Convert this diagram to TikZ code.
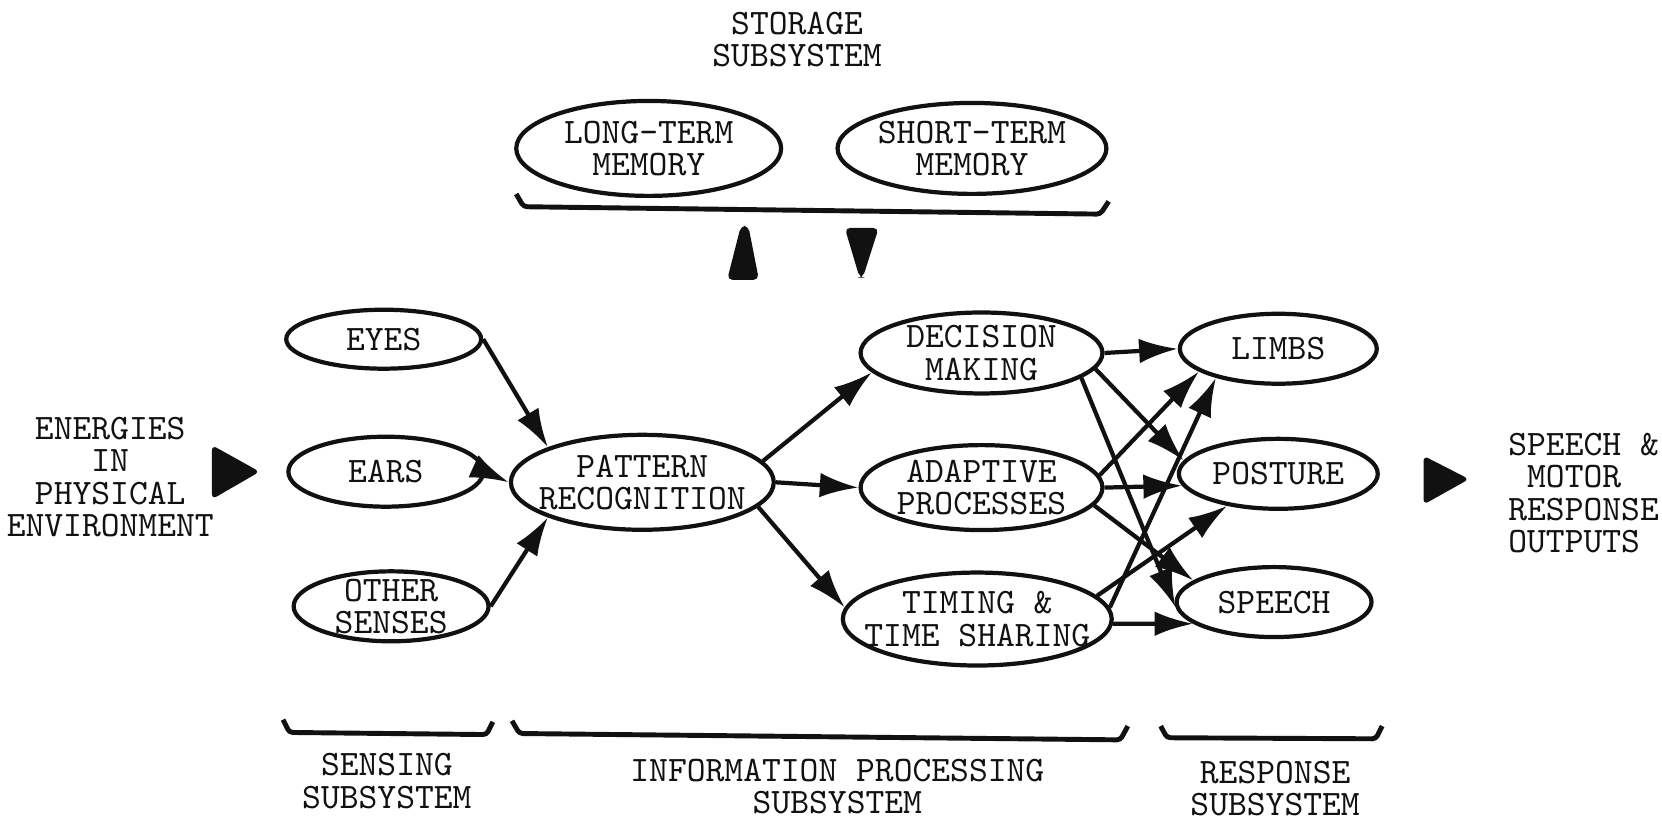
\documentclass[tikz,border=0pt]{standalone}
\usepackage{fontspec}
\usetikzlibrary{arrows.meta,shapes.geometric}
\definecolor{Ink}{HTML}{111111}
\definecolor{Paper}{HTML}{FFFFFF}

\begin{document}
\begin{tikzpicture}[x=0.0106cm,y=-0.0106cm,>={Latex[length=11pt,width=7pt]},line width=1.2pt,
 every node/.style={font=\ttfamily\fontsize{10.2}{9.2}\selectfont,text=Ink},
 unit/.style={draw=Ink,ellipse,inner sep=0pt,label={[align=center]center:#1}},
 flow/.style={draw=Ink,->},
 brace/.style={draw=Ink,line width=1.4pt,rounded corners=1pt},
 blob/.style={fill=Ink,rounded corners=1.5pt}]
\fill[Paper] (0,0) rectangle (1568,775); \useasboundingbox (0,0) rectangle (1568,775);
\node[align=center] (stor) at (752,37) {STORAGE\\SUBSYSTEM};
\node[unit={LONG-TERM\\MEMORY},minimum width=2.65cm,minimum height=0.95cm] (ltm) at (612,140) {};
\node[unit={SHORT-TERM\\MEMORY},minimum width=2.69cm,minimum height=0.91cm] (stm) at (917,140) {};
\draw[brace] (487,183) -- (494,195) -- (1038,202) -- (1046,190);
\fill[blob] (686,264) -- (699,213) -- (706,213) -- (716,264) -- cycle;
\fill[blob] (797,215) -- (829,215) -- (814,262) -- (811,262) -- cycle;
\node[align=center] (env) at (104,450) {ENERGIES\\IN\\PHYSICAL\\ENVIRONMENT};
\fill[blob] (200,420) -- (245,445) -- (200,471) -- cycle;
\node[unit=EYES,minimum width=1.95cm,minimum height=0.59cm] (eyes) at (362,320) {};
\node[unit=EARS,minimum width=1.95cm,minimum height=0.70cm] (ears) at (364,445) {};
\node[unit={OTHER\\SENSES},minimum width=1.95cm,minimum height=0.70cm] (oth) at (369,572) {};
\node[unit={PATTERN\\RECOGNITION},minimum width=2.63cm,minimum height=0.95cm] (pat) at (606,455) {};
\node[unit={DECISION\\MAKING},minimum width=2.42cm,minimum height=0.81cm] (dec) at (926,333) {};
\node[unit={ADAPTIVE\\PROCESSES},minimum width=2.42cm,minimum height=0.85cm] (ada) at (926,460) {};
\node[unit={TIMING \&\\TIME SHARING},minimum width=2.69cm,minimum height=0.93cm] (tim) at (922,584) {};
\node[unit=LIMBS,minimum width=1.97cm,minimum height=0.70cm] (lim) at (1206,329) {};
\node[unit=POSTURE,minimum width=1.99cm,minimum height=0.70cm] (pos) at (1206,447) {};
\node[unit=SPEECH,minimum width=1.95cm,minimum height=0.70cm] (spe) at (1202,568) {};
\fill[blob] (1343,430) -- (1386,452) -- (1343,476) -- cycle;
\node[align=left,anchor=west] (out) at (1410,465) {SPEECH \&\\\phantom{M}MOTOR\\RESPONSE\\OUTPUTS};
% sensing to recognition
\draw[flow] (eyes.east) -- (pat.north west);
\draw[flow] (ears.east) -- (pat.west);
\draw[flow] (oth.east) -- (pat.south west);
\draw[flow] (pat.10) -- (dec.190);
\draw[flow] (pat.east) -- (ada.west);
\draw[flow] (pat.-12) -- (tim.175);
% processing to response
\draw[flow] (dec.east) -- (lim.west);
\draw[flow] (dec.-8) -- (pos.172);
\draw[flow] (dec.-14) -- (spe.183);
\draw[flow] (ada.6) -- (lim.196);
\draw[flow] (ada.east) -- (pos.187);
\draw[flow] (ada.-9) -- (spe.165);
\draw[flow] (tim.5) -- (lim.205);
\draw[flow] (tim.11) -- (pos.212);
\draw[flow] (tim.-2) -- (spe.195);
\draw[brace] (267,679) -- (273,691) -- (459,693) -- (465,681);
\draw[brace] (483,680) -- (490,692) -- (1057,698) -- (1064,685);
\draw[brace] (1095,685) -- (1101,696) -- (1298,697) -- (1304,685);
\node[align=center] (sens) at (365,737) {SENSING\\SUBSYSTEM};
\node[align=center] (info) at (790,742) {INFORMATION PROCESSING\\SUBSYSTEM};
\node[align=center] (resp) at (1203,744) {RESPONSE\\SUBSYSTEM};
\end{tikzpicture}
\end{document}
